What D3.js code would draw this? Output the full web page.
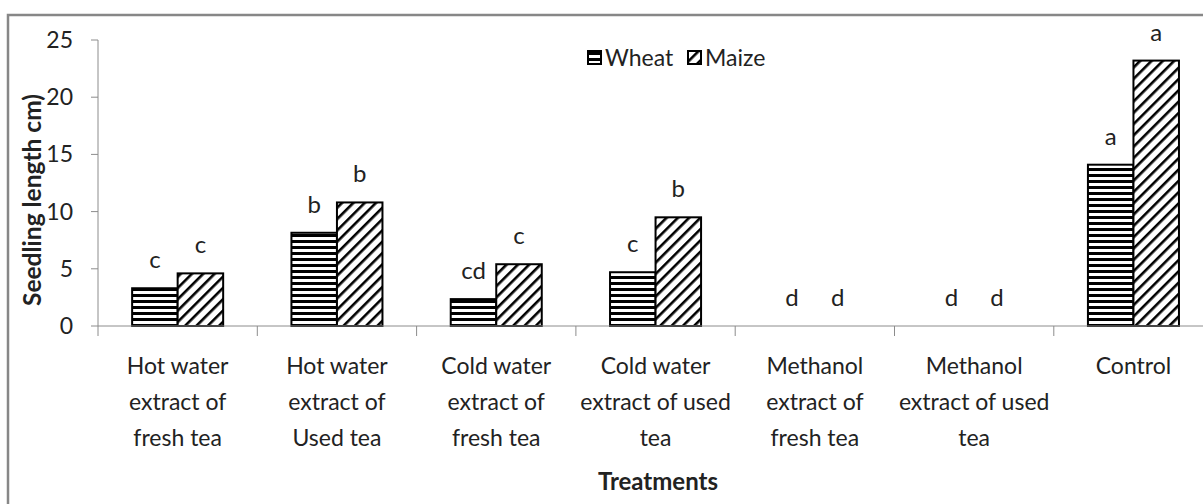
<!DOCTYPE html>
<html><head><meta charset="utf-8">
<script src="https://cdn.jsdelivr.net/npm/d3@7"></script>
<style>
html,body{margin:0;padding:0;background:#fff;}
svg{display:block;font-family:Lato,"Open Sans",sans-serif;}
</style></head>
<body><svg id="chart" width="1203" height="504"></svg>
<script>
const categories = [
  ["Hot water","extract of","fresh tea"],
  ["Hot water","extract of","Used tea"],
  ["Cold water","extract of","fresh tea"],
  ["Cold water","extract of used","tea"],
  ["Methanol","extract of","fresh tea"],
  ["Methanol","extract of used","tea"],
  ["Control"]
];
const seriesNames = ["Wheat","Maize"];
const wheat = [3.3, 8.15, 2.35, 4.7, 0, 0, 14.1];
const maize = [4.6, 10.8, 5.4, 9.5, 0, 0, 23.2];
const wheatLetters = ["c","b","cd","c","d","d","a"];
const maizeLetters = ["c","b","c","b","d","d","a"];
const yTicks = [0,5,10,15,20,25];

const svg = d3.select("#chart");
const textCol = "#222";
const axisCol = "#8c8c8c";

// defs: patterns
const defs = svg.append("defs");
const ph = defs.append("pattern").attr("id","hstripe").attr("patternUnits","userSpaceOnUse")
  .attr("width",8).attr("height",6);
ph.append("rect").attr("width",8).attr("height",6).attr("fill","#fff");
ph.append("rect").attr("y",0).attr("width",8).attr("height",3).attr("fill","#000");
const pd = defs.append("pattern").attr("id","dstripe").attr("patternUnits","userSpaceOnUse")
  .attr("width",8).attr("height",8).attr("patternTransform","rotate(45)");
pd.append("rect").attr("width",8).attr("height",8).attr("fill","#fff");
pd.append("rect").attr("x",0).attr("width",2.6).attr("height",8).attr("fill","#000");

// outer border
svg.append("rect").attr("x",8).attr("y",15).attr("width",1240).attr("height",540)
  .attr("fill","none").attr("stroke","#878787").attr("stroke-width",2.5);

const x0 = 98, yTop = 40, yBot = 326, step = 159.3;
const x = d3.scaleBand().domain(d3.range(categories.length)).range([x0, x0 + step*categories.length]).padding(0);
const xs = d3.scaleBand().domain(seriesNames).range([0, x.bandwidth()]).paddingInner(0).paddingOuter(0.75);
const y = d3.scaleLinear().domain([0,25]).range([yBot, yTop]);

// y axis
const yAxis = svg.append("g");
yAxis.append("line").attr("x1",x0).attr("x2",x0).attr("y1",yTop).attr("y2",yBot).attr("stroke",axisCol).attr("stroke-width",1);
yTicks.forEach(t=>{
  yAxis.append("line").attr("x1",x0-7).attr("x2",x0).attr("y1",y(t)).attr("y2",y(t)).attr("stroke",axisCol);
  yAxis.append("text").attr("x",x0-25).attr("y",y(t)).attr("dy","0.35em").attr("text-anchor","end")
    .attr("font-size",23).attr("fill",textCol).text(t);
});

// bars
const data = categories.map((c,i)=>({i, vals:[{s:"Wheat",v:wheat[i],l:wheatLetters[i]},{s:"Maize",v:maize[i],l:maizeLetters[i]}]}));
const g = svg.append("g");
data.forEach(d=>{
  d.vals.forEach(b=>{
    const bx = x(d.i) + xs(b.s);
    if (b.v > 0) {
      g.append("rect").attr("x",bx).attr("y",y(b.v)).attr("width",xs.bandwidth()).attr("height",y(0)-y(b.v))
        .attr("fill", b.s==="Wheat" ? "url(#hstripe)" : "url(#dstripe)")
        .attr("stroke","#000").attr("stroke-width",2);
    }
    g.append("text").attr("x",bx + xs.bandwidth()/2).attr("y",y(b.v)-20).attr("text-anchor","middle")
      .attr("font-size",24).attr("fill",textCol).text(b.l);
  });
});

// x axis
const xAxis = svg.append("g");
xAxis.append("line").attr("x1",x0).attr("x2",1210).attr("y1",yBot).attr("y2",yBot).attr("stroke",axisCol);
d3.range(categories.length+1).forEach(k=>{
  const tx = x0 + k*step;
  xAxis.append("line").attr("x1",tx).attr("x2",tx).attr("y1",yBot).attr("y2",yBot+10).attr("stroke",axisCol);
});
categories.forEach((lines,i)=>{
  const t = xAxis.append("text").attr("text-anchor","middle").attr("font-size",23).attr("fill",textCol);
  lines.forEach((ln,j)=>{
    t.append("tspan").attr("x",x(i)+x.bandwidth()/2).attr("y",374 + j*36).text(ln);
  });
});

// axis titles
svg.append("text").attr("x",658).attr("y",490).attr("text-anchor","middle").attr("font-size",24)
  .attr("font-weight","bold").attr("fill",textCol).text("Treatments");
svg.append("text").attr("transform","translate(41,200) rotate(-90)").attr("text-anchor","middle")
  .attr("font-size",24.5).attr("font-weight","bold").attr("fill",textCol).text("Seedling length cm)");

// legend
const leg = svg.append("g").attr("transform","translate(588,58)");
const legItems = [{s:"Wheat",f:"url(#hstripe)",x:0},{s:"Maize",f:"url(#dstripe)",x:100}];
legItems.forEach(it=>{
  leg.append("rect").attr("x",it.x).attr("y",-7).attr("width",13).attr("height",13)
    .attr("fill",it.f).attr("stroke","#000").attr("stroke-width",2);
  leg.append("text").attr("x",it.x+17).attr("y",0).attr("dy","0.35em").attr("font-size",23)
    .attr("fill",textCol).text(it.s);
});
</script></body></html>
